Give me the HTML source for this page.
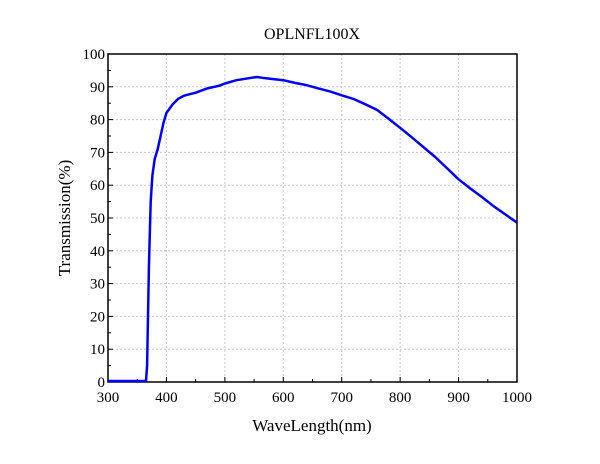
<!DOCTYPE html>
<html><head><meta charset="utf-8"><style>
body{margin:0;background:#fff}
svg text{font-family:"Liberation Serif",serif;fill:#000}
</style></head><body>
<svg id="chart" width="600" height="459" viewBox="0 0 600 459" xmlns="http://www.w3.org/2000/svg">
<text x="312" y="39" font-size="16" text-anchor="middle">OPLNFL100X</text>
<g id="grid"></g>
<g id="axes"></g>
<path id="line" fill="none" stroke="#0000ff" stroke-width="2.5" stroke-linejoin="round"/>
<text x="312" y="431" font-size="17" text-anchor="middle">WaveLength(nm)</text>
<text transform="translate(70,218) rotate(-90)" font-size="17" text-anchor="middle">Transmission(%)</text>
</svg>
<script>
const wavelengths=[300,330,365,367,370,373,376,380,385,390,395,400,410,420,430,450,470,490,500,520,540,555,570,600,620,640,660,680,700,720,740,760,780,800,820,840,860,880,900,920,940,960,980,1000];
const transmission=[0.3,0.3,0.3,5,35,55,63,68,71,75,79,82,84.5,86.3,87.3,88.2,89.5,90.3,91,92,92.6,93,92.6,92,91.2,90.5,89.5,88.6,87.4,86.3,84.7,83,80.3,77.5,74.6,71.6,68.6,65.2,61.8,59,56.4,53.6,51.1,48.6];
const xTicks=[300,400,500,600,700,800,900,1000];
const yTicks=[0,10,20,30,40,50,60,70,80,90,100];
const L=108,R=517,T=54,B=382;
const xs=v=>L+(v-300)/700*(R-L);
const ys=v=>B-v/100*(B-T);
const NS="http://www.w3.org/2000/svg";
const grid=document.getElementById('grid'),axes=document.getElementById('axes');
function mk(p,tag,a){const e=document.createElementNS(NS,tag);for(const k in a)e.setAttribute(k,a[k]);p.appendChild(e);return e;}
xTicks.forEach(v=>{
 if(v>300&&v<1000){const g=mk(grid,'line',{x1:xs(v),x2:xs(v),y1:T,y2:B,stroke:'#c8c8c8','stroke-dasharray':'2,2'});
 
 }
 const t=mk(axes,'text',{x:xs(v),y:B+20,'font-size':'15','text-anchor':'middle'});t.textContent=v;
 
 
 mk(axes,'line',{x1:xs(v),x2:xs(v),y1:B,y2:B-5,stroke:'#000'});
 if(v<1000)mk(axes,'line',{x1:xs(v+50),x2:xs(v+50),y1:B,y2:B-3,stroke:'#000'});
});
yTicks.forEach(v=>{
 if(v>0&&v<100){const g=mk(grid,'line',{x1:L,x2:R,y1:ys(v),y2:ys(v),stroke:'#c8c8c8','stroke-dasharray':'2,2'});
 
 }
 const t=mk(axes,'text',{x:L-3,y:ys(v)+5,'font-size':'15','text-anchor':'end'});t.textContent=v;
 
 
 mk(axes,'line',{x1:L,x2:L+5,y1:ys(v),y2:ys(v),stroke:'#000'});
 if(v<100)mk(axes,'line',{x1:L,x2:L+3,y1:ys(v+5),y2:ys(v+5),stroke:'#000'});
});
const f=mk(axes,'rect',{x:L,y:T,width:R-L,height:B-T,fill:'none',stroke:'#000','stroke-width':'1.5'});


document.getElementById('line').setAttribute('d',wavelengths.map((w,i)=>(i?'L':'M')+xs(w).toFixed(1)+','+ys(transmission[i]).toFixed(1)).join(''));
</script>
</body></html>
